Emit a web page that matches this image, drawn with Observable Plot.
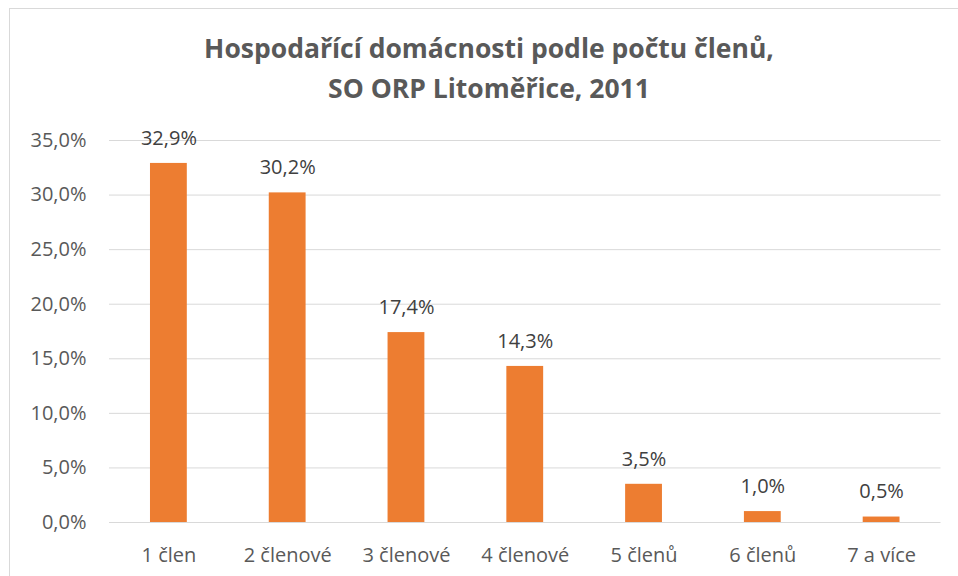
<!DOCTYPE html>
<html>
<head>
<meta charset="utf-8">
<script src="https://cdn.jsdelivr.net/npm/d3@7"></script>
<script src="https://cdn.jsdelivr.net/npm/@observablehq/plot@0.6"></script>
<style>
  html, body { margin: 0; padding: 0; background: #fff; }
  #wrap { position: relative; width: 958px; height: 576px; overflow: hidden; }
  #frame { position: absolute; left: 9px; top: 8px; width: 980px; height: 600px; border: 1px solid #d9d9d9; box-sizing: border-box; }
  #title { position: absolute; left: 10px; top: 28px; width: 958px; text-align: center;
    font-family: "Open Sans", sans-serif; font-weight: bold; font-size: 26.5px; line-height: 40px; color: #595959; }
  #chart { position: absolute; left: 0; top: 120px; }
</style>
</head>
<body>
<div id="wrap">
  <div id="frame"></div>
  <div id="title">Hospodařící domácnosti podle počtu členů,<br>SO ORP Litoměřice, 2011</div>
  <div id="chart"></div>
</div>
<script>
const categories = ["1 člen", "2 členové", "3 členové", "4 členové", "5 členů", "6 členů", "7 a více"];
const values = [32.9, 30.2, 17.4, 14.3, 3.5, 1.0, 0.5];
const yTicks = [0, 5, 10, 15, 20, 25, 30, 35];

const data = categories.map((c, i) => ({cat: c, val: values[i]}));
const fmt = v => v.toFixed(1).replace(".", ",") + "%";

const chart = Plot.plot({
  width: 958,
  height: 456,
  marginTop: 20,
  marginBottom: 54,
  marginLeft: 109,
  marginRight: 17.5,
  style: { fontFamily: "'Open Sans', sans-serif", fontSize: "20px", color: "#595959", background: "transparent" },
  x: { domain: categories, paddingInner: 0.69, paddingOuter: 0.345, round: false, label: null },
  y: { domain: [0, 35], ticks: yTicks, label: null },
  marks: [
    Plot.gridY(yTicks, { stroke: "#d9d9d9", strokeOpacity: 1, strokeWidth: 1 }),
    Plot.axisY(yTicks, { tickSize: 0, tickPadding: 23, tickFormat: fmt, fontSize: 20, fill: "#595959", label: null }),
    Plot.axisX({ tickSize: 0, tickPadding: 25, fontSize: 20, fill: "#595959", label: null }),
    Plot.barY(data, { x: "cat", y: "val", fill: "#ED7D31" }),
    Plot.text(data, { x: "cat", y: "val", text: d => fmt(d.val), dy: -25, fontSize: 20, fill: "#404040" })
  ]
});
document.getElementById("chart").appendChild(chart);
</script>
</body>
</html>
